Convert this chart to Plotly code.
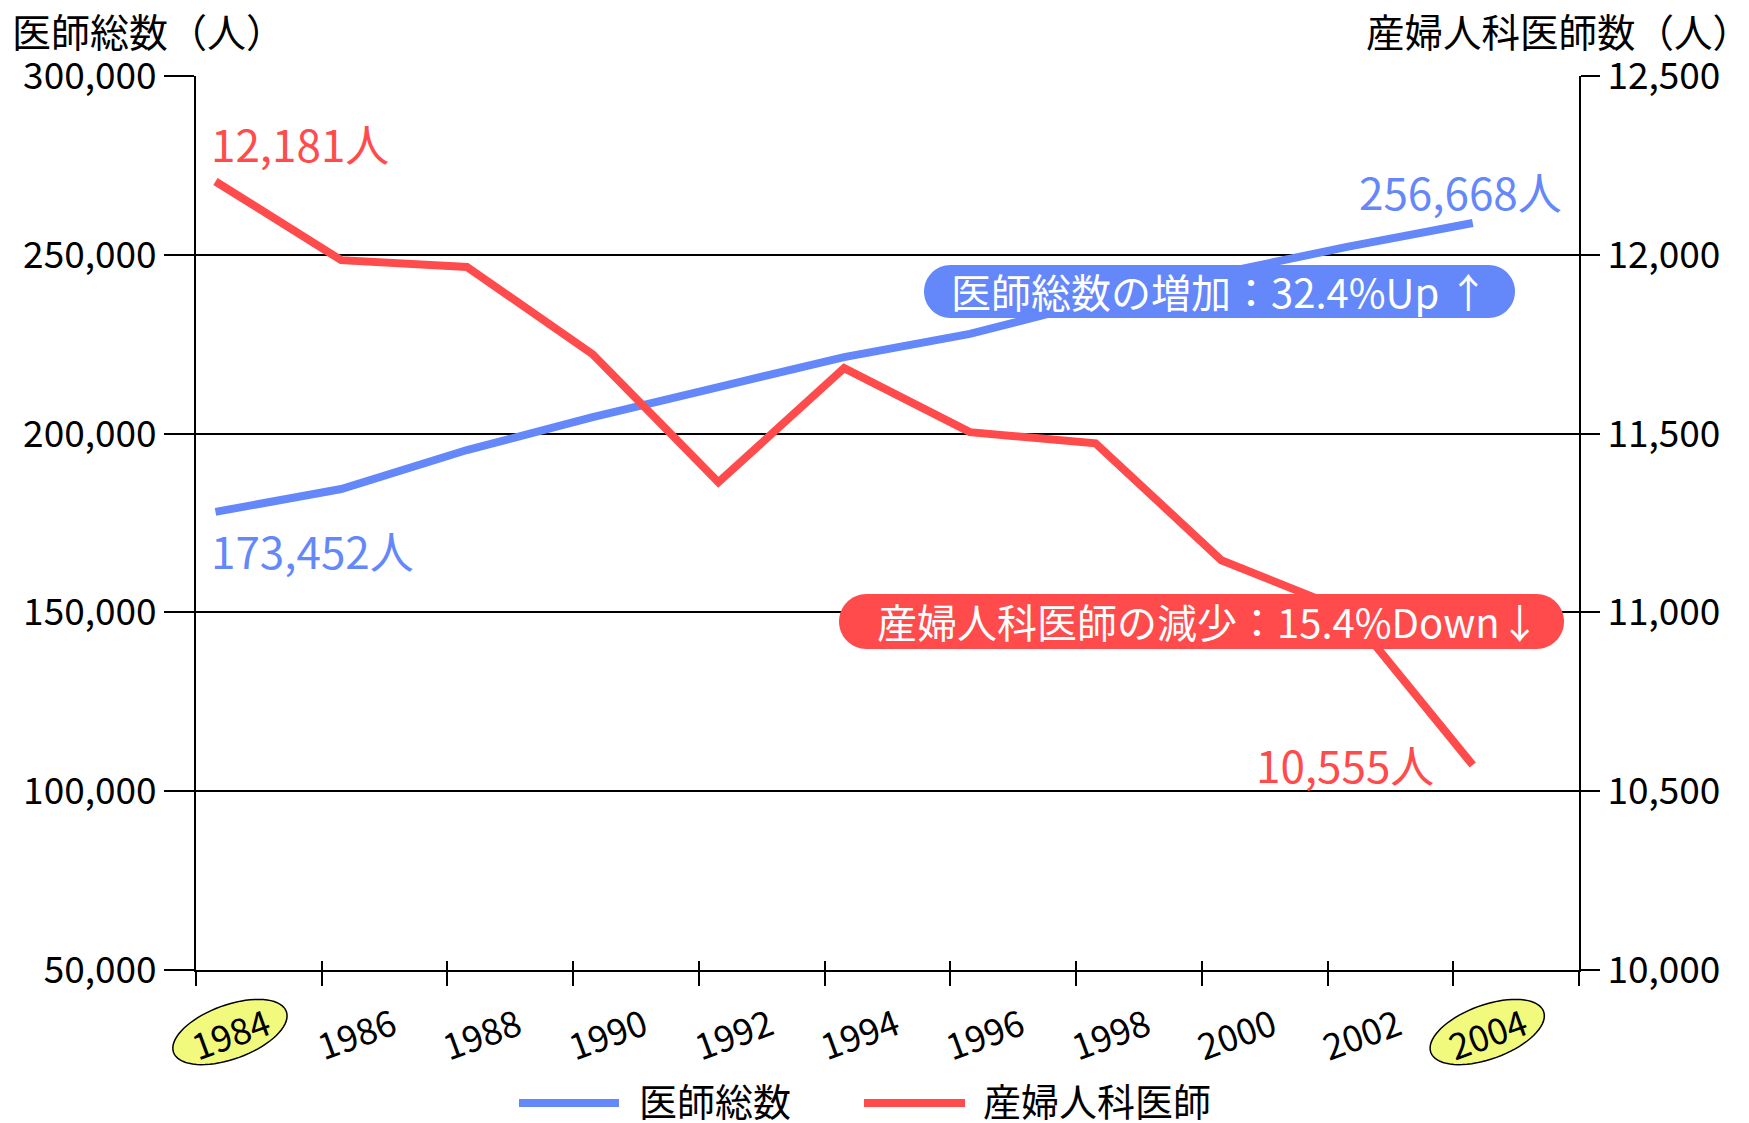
import plotly.graph_objects as go
import math

# ---- data ----
years = [1984, 1986, 1988, 1990, 1992, 1994, 1996, 1998, 2000, 2002, 2004]
year_labels = ["1984", "1986", "1988", "1990", "1992", "1994", "1996", "1998", "2000", "2002", "2004"]
doctors_total = [178100, 184500, 195400, 204600, 213000, 221400, 227900, 236900, 244900, 252200, 258900]
obgyn_doctors = [12205, 11985, 11966, 11722, 11364, 11683, 11504, 11473, 11146, 11005, 10573]
highlight_years = ["1984", "2004"]

name_total = "医師総数"
name_obgyn = "産婦人科医師"
title_left = "医師総数（人）"
title_right = "産婦人科医師数（人）"
label_total_start = "173,452人"
label_total_end = "256,668人"
label_obgyn_start = "12,181人"
label_obgyn_end = "10,555人"
box_up = "医師総数の増加：32.4%Up ↑"
box_down = "産婦人科医師の減少：15.4%Down↓"

# ---- style ----
BLUE = "#6488FA"
RED = "#FF4B4B"
FONT = "Noto Sans CJK JP"
OFF = 8  # page body margin
W_FIG, H_FIG = 1749 - OFF, 1123 - OFF
L, T = 196 - OFF, 76 - OFF
R, B = W_FIG - (1579 - OFF), H_FIG - (970 - OFF)
PW, PH = W_FIG - L - R, H_FIG - T - B

x0_range = years[0] - 0.31
x1_range = x0_range + 2 * len(years)
boundaries = [x0_range + 2 * k for k in range(len(years) + 1)]
units_per_px = (x1_range - x0_range) / PW


# helpers take page pixel coordinates
def px(x):
    return (x - OFF - L) / PW


def py(y):
    return (T + PH - (y - OFF)) / PH


def data_to_px(xd):
    return OFF + L + (xd - x0_range) / units_per_px


def pill_path(xa, ya, xb, yb):
    r = (yb - ya) / 2
    k = 0.5523 * r
    pts = [
        ("M", [(xa + r, ya)]),
        ("L", [(xb - r, ya)]),
        ("C", [(xb - r + k, ya), (xb, ya + r - k), (xb, ya + r)]),
        ("C", [(xb, ya + r + k), (xb - r + k, yb), (xb - r, yb)]),
        ("L", [(xa + r, yb)]),
        ("C", [(xa + r - k, yb), (xa, ya + r + k), (xa, ya + r)]),
        ("C", [(xa, ya + r - k), (xa + r - k, ya), (xa + r, ya)]),
    ]
    s = ""
    for cmd, ps in pts:
        s += cmd + " ".join(f"{px(a):.5f},{py(b):.5f}" for a, b in ps) + " "
    return s + "Z"


def ellipse_path(xc_px, yc_px, a=60, b=27, ang=20):
    th = math.radians(ang)
    u = (math.cos(th), -math.sin(th))
    v = (math.sin(th), math.cos(th))
    s = ""
    n = 72
    for i in range(n):
        t = 2 * math.pi * i / n
        dx = a * math.cos(t) * u[0] + b * math.sin(t) * v[0]
        dy = a * math.cos(t) * u[1] + b * math.sin(t) * v[1]
        s += ("M" if i == 0 else "L") + f"{px(xc_px + dx):.5f},{py(yc_px + dy):.5f} "
    return s + "Z"


fig = go.Figure()
fig.add_trace(go.Scatter(x=years, y=doctors_total, name=name_total, mode="lines",
                         line=dict(color=BLUE, width=8), xaxis="x", yaxis="y", showlegend=False))
fig.add_trace(go.Scatter(x=years, y=obgyn_doctors, name=name_obgyn, mode="lines",
                         line=dict(color=RED, width=8), xaxis="x2", yaxis="y2", showlegend=False))

label_offset = 0.23
label_y_px = 1032

annotations = []
shapes = []
for yr, lab in zip(years, year_labels):
    xc = yr + label_offset
    if lab in highlight_years:
        shapes.append(dict(type="path", xref="paper", yref="paper",
                           path=ellipse_path(data_to_px(xc), label_y_px),
                           fillcolor="#F2FA7D", line=dict(color="black", width=1.5), layer="above"))
    annotations.append(dict(x=xc, y=py(label_y_px), xref="x", yref="paper", text=lab, showarrow=False,
                            textangle=-20, font=dict(family=FONT, size=36, color="black"),
                            xanchor="center", yanchor="middle"))

# callout boxes
shapes.append(dict(type="path", xref="paper", yref="paper", path=pill_path(924, 265, 1515, 318),
                   fillcolor=BLUE, line=dict(width=0), layer="above"))
shapes.append(dict(type="path", xref="paper", yref="paper", path=pill_path(839, 594, 1564, 649),
                   fillcolor=RED, line=dict(width=0), layer="above"))


def txt(x, y, s, color, size, xanchor="center"):
    annotations.append(dict(x=px(x), y=py(y), xref="paper", yref="paper", text=s, showarrow=False,
                            font=dict(family=FONT, size=size, color=color), xanchor=xanchor,
                            yanchor="middle", borderpad=0))


txt(1219, 291, box_up, "white", 40)
txt(1208, 621, box_down, "white", 40)
txt(300, 143, label_obgyn_start, RED, 44)
txt(1345, 764, label_obgyn_end, RED, 44)
txt(312, 550, label_total_start, BLUE, 44)
txt(1460, 191, label_total_end, BLUE, 44)
txt(11, 30, title_left, "black", 39, "left")
txt(1752, 30, title_right, "black", 38.5, "right")

# manual legend
legend_items = [(name_total, BLUE, 519, 619, 641), (name_obgyn, RED, 864, 965, 985)]
for nm, col, xa, xb, xt in legend_items:
    shapes.append(dict(type="line", xref="paper", yref="paper", x0=px(xa), x1=px(xb),
                       y0=py(1103), y1=py(1103), line=dict(color=col, width=8)))
    txt(xt - 3, 1099, nm, "black", 38, "left")

axis_common = dict(range=[x0_range, x1_range], tickmode="array", tickvals=boundaries,
                   showticklabels=False, showgrid=False, zeroline=False,
                   tickcolor="black", tickwidth=2)

fig.update_layout(
    width=W_FIG, height=H_FIG,
    margin=dict(l=L, r=R, t=T, b=B, autoexpand=False),
    paper_bgcolor="white", plot_bgcolor="white",
    font=dict(family=FONT, color="black"),
    xaxis=dict(**axis_common, ticks="outside", ticklen=14, showline=True, linecolor="black", linewidth=2),
    xaxis2=dict(**axis_common, ticks="inside", ticklen=9, showline=False, overlaying="x", matches="x"),
    yaxis=dict(range=[50000, 300000], tickmode="array",
               tickvals=[50000, 100000, 150000, 200000, 250000, 300000],
               tickformat=",d", ticks="outside", ticklen=30, tickwidth=2, tickcolor="black",
               showgrid=True, gridcolor="black", gridwidth=2, zeroline=False,
               showline=True, linecolor="black", linewidth=2,
               tickfont=dict(family=FONT, size=37, color="black")),
    yaxis2=dict(range=[10000, 12500], tickmode="array",
                tickvals=[10000, 10500, 11000, 11500, 12000, 12500],
                tickformat=",d", ticks="outside", ticklen=19, tickwidth=2, tickcolor="black",
                showgrid=False, zeroline=False, showline=True, linecolor="black", linewidth=2,
                overlaying="y", side="right", anchor="x2",
                tickfont=dict(family=FONT, size=37, color="black")),
    showlegend=False,
    annotations=annotations,
    shapes=shapes,
)

fig.write_html("out.html")
